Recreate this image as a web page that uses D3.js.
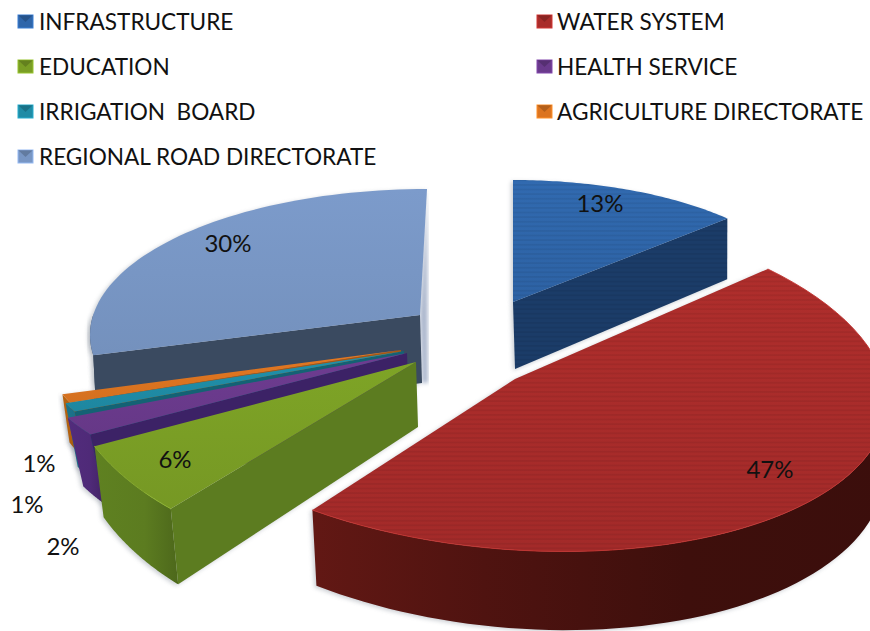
<!DOCTYPE html>
<html><head><meta charset="utf-8">
<script src="https://cdn.jsdelivr.net/npm/d3@7"></script>
<style>html,body{margin:0;background:#fff}svg{display:block}text{font-family:Lato,"Open Sans",sans-serif;fill:#111}</style>
</head><body><div id="c"></div>
<script>
const categories=["INFRASTRUCTURE","WATER SYSTEM","EDUCATION","HEALTH SERVICE","IRRIGATION  BOARD","AGRICULTURE DIRECTORATE","REGIONAL ROAD DIRECTORATE"];
const values=[13,47,6,2,1,1,30];
const percentLabels=["13%","47%","6%","2%","1%","1%","30%"];
const topColors=["#2f66aa","#a92c2a","#7a9e25","#6a3a8c","#1f8ca6","#dc7420","#7896c4"];
const cutColors=["#1b3c68","#54120f","#5c7c20","#3c2266","#146274","#a9560f","#3a4a60"];
const rimColors=["#24508a","#4f1310","#5c7c20","#4f2a78","#1a6f86","#b0600f","#3a4a60"];
// layout, one entry per slice: wedge apex, ellipse centre and radii, shear, angular twist (deg), wall depth, wall lean
const apexX=[513,515,416,407,404,401,420];
const apexY=[302,379,362,353,351,350,315];
const centreX=[513,515,416,407,404,401,427];
const centreY=[302,379,362,353,351,350,335];
const radX=[294,372,353,375,364,356,337];
const radY=[122,171,204,152,142,143,146];
const shear=[0,22.7,0,0,0,0,0];
const twistStart=[0,-4,8,0,0,0,10];
const twistEnd=[0,-3,8,0,0,0,0];
const depth=[67,66,65,64,60,46,68];
const lean=[.99,.99,.978,.96,.97,.985,.995];
const labelX=[600,770,175,63,27,39,228];
const labelY=[204,470,460,547,505,464,244];
const legendCols=[18,537];
const legendRows=[22,67,112,157];

const W=870,H=631;
const svg=d3.select("#c").append("svg").attr("width",W).attr("height",H);
const defs=svg.append("defs");
const blur=defs.append("filter").attr("id","soft").attr("x","-10%").attr("y","-10%").attr("width","120%").attr("height","120%");
blur.append("feGaussianBlur").attr("stdDeviation",2);
const stripes=defs.append("pattern").attr("id","stripes").attr("width",8).attr("height",4.6).attr("patternUnits","userSpaceOnUse");
stripes.append("rect").attr("width",8).attr("height",1.8).attr("fill","#000").attr("opacity",.06);

const arcs=d3.pie().sort(null).value(d=>d).startAngle(0).endAngle(2*Math.PI)(values);
const line=d3.line().x(d=>d[0]).y(d=>d[1]);
const rad=Math.PI/180;
const phi=(i,a)=>{const s=arcs[i];
  return a+d3.scaleLinear().domain([s.startAngle,s.endAngle]).range([twistStart[i],twistEnd[i]])(a)*rad;};
const topPt=(i,a)=>{const p=phi(i,a);
  return [centreX[i]+radX[i]*Math.sin(p),centreY[i]-radY[i]*Math.cos(p)+shear[i]*Math.sin(p)];};
const apexTop=i=>[apexX[i],apexY[i]];
const drop=(i,q)=>{const dy=q[1]-apexY[i];
  return [apexX[i]+2+(q[0]-apexX[i])*lean[i],q[1]+depth[i]*(1+dy/900)];};
const arcPts=(i,a0,a1)=>d3.range(0,61).map(k=>topPt(i,a0+(a1-a0)*k/60));

function rimFill(i){const id="rim"+i;const g=defs.append("linearGradient").attr("id",id);const c=d3.color(rimColors[i]);
  const stops=i===1?[[0,c.brighter(.6)],[.3,c],[.65,c.darker(.7)],[1,c.darker(.8)]]:[[0,c.brighter(.1)],[.6,c],[1,c.darker(.5)]];
  stops.forEach(s=>g.append("stop").attr("offset",s[0]).attr("stop-color",s[1]));return `url(#${id})`;}
function topFill(i){const id="top"+i;const g=defs.append("linearGradient").attr("id",id).attr("x1",0).attr("x2",0).attr("y1",0).attr("y2",1);const c=d3.color(topColors[i]);
  g.append("stop").attr("offset","0%").attr("stop-color",c.brighter(.1));
  g.append("stop").attr("offset","100%").attr("stop-color",c.darker(.1));return `url(#${id})`;}

const order=[6,5,4,3,2,0,1];
const plot=svg.append("g");
const visibleCut=i=>i===1?null:(i===0?arcs[i].endAngle:arcs[i].startAngle);
const shapes=i=>{const a=arcs[i],ap=apexTop(i),out=[];
  const lo=Math.max(a.startAngle,Math.PI/2),hi=Math.min(a.endAngle,1.5*Math.PI);
  if(lo<hi){const t=arcPts(i,lo,hi);out.push({k:"rim",p:[...t,...t.slice().reverse().map(q=>drop(i,q))]});}
  const cut=visibleCut(i);
  if(cut!==null){const q=topPt(i,cut);out.push({k:"cut",p:[ap,q,drop(i,q),drop(i,ap)]});}
  out.push({k:"top",p:[ap,...arcPts(i,a.startAngle,a.endAngle)]});
  return out;};

order.forEach(i=>shapes(i).forEach(s=>{
  plot.append("path").attr("d",line(s.p)+"Z").attr("fill","#7f8894").attr("opacity",.4)
    .attr("transform","translate(-2,1.5)").attr("filter","url(#soft)");
}));
{const q=topPt(6,arcs[6].endAngle),ap=apexTop(6),b=drop(6,ap);
 plot.append("path").attr("d",line([q,[q[0]+1,b[1]],b,ap])+"Z").attr("fill","#aab6cc").attr("filter","url(#soft)");}

order.forEach(i=>{
  const g=plot.append("g");
  shapes(i).forEach(s=>{
    g.append("path").attr("d",line(s.p)+"Z")
      .attr("fill",s.k==="rim"?rimFill(i):s.k==="cut"?cutColors[i]:topFill(i));
    if((s.k==="cut"&&i===0)||(s.k==="top"&&i<2))g.append("path").attr("d",line(s.p)+"Z").attr("fill","url(#stripes)");
    if(s.k==="top"&&(i===1||i===2))g.append("path").attr("d",line(s.p.slice(1))).attr("fill","none")
      .attr("stroke",d3.color(topColors[i]).brighter(.4)).attr("stroke-width",.9);
  });
});

svg.append("g").selectAll("text").data(percentLabels).join("text")
  .attr("x",(d,i)=>labelX[i]).attr("y",(d,i)=>labelY[i]).attr("dy","0.35em")
  .attr("text-anchor","middle").attr("font-size",24).text(d=>d);

const legendOrder=[[0,0],[0,1],[1,0],[1,1],[2,0],[2,1],[3,0]];
const leg=svg.append("g").selectAll("g").data(categories).join("g")
  .attr("transform",(d,i)=>`translate(${legendCols[legendOrder[i][1]]},${legendRows[legendOrder[i][0]]})`);
leg.append("rect").attr("x",0).attr("y",-7).attr("width",15).attr("height",13)
  .attr("fill",(d,i)=>topColors[i]).attr("stroke",(d,i)=>d3.color(topColors[i]).brighter(.6)).attr("stroke-width",1);
leg.append("path").attr("d","M0,-7L7.5,0L15,-7Z").attr("fill","#000").attr("opacity",.18);
leg.append("text").attr("x",(d,i)=>legendOrder[i][1]?20:21).attr("dy","0.35em").attr("font-size",22.6).style("white-space","pre").text(d=>d);
</script></body></html>
